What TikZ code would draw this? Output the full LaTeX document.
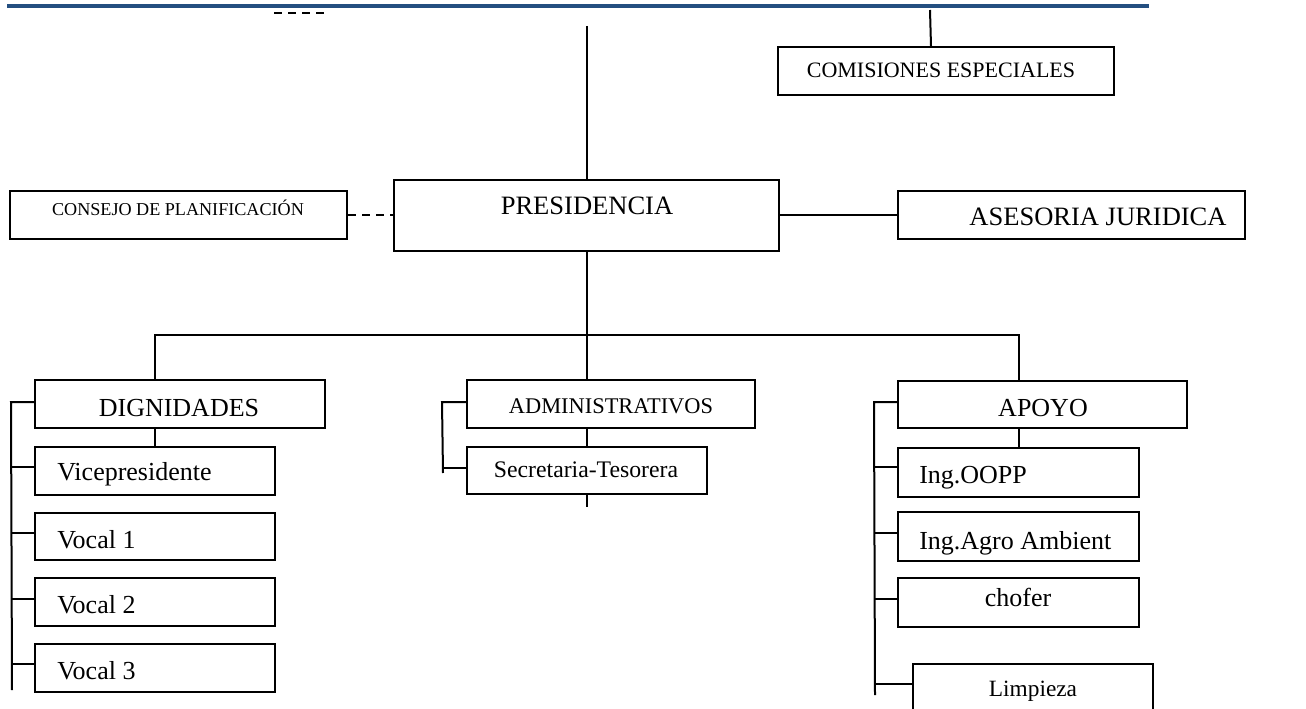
\documentclass[tikz,border=0pt]{standalone}
\usepackage{fontspec}
\setmainfont{Liberation Serif}
\usetikzlibrary{fit,calc}
\definecolor{barblue}{RGB}{36,79,128}
\begin{document}
\begin{tikzpicture}[x=0.75pt,y=-0.75pt,
  box/.style={draw, line width=1.5pt, inner sep=0pt, fit={#1}},
  conn/.style={line width=1.5pt},
  lbl/.style={inner sep=0pt, anchor=base},
  lblw/.style={inner sep=0pt, anchor=base west},
  fA/.style={font=\fontsize{19.9}{24}\selectfont},
  fB/.style={font=\fontsize{19.5}{23}\selectfont},
  fC/.style={font=\fontsize{16.5}{20}\selectfont},
  fD/.style={font=\fontsize{13.6}{16}\selectfont},
  fE/.style={font=\fontsize{16.8}{20}\selectfont},
  fF/.style={font=\fontsize{17.8}{21}\selectfont},
  fG/.style={font=\fontsize{17.5}{21}\selectfont},
]
\clip (0,0) rectangle (1306,709);
\fill[white] (0,0) rectangle (1306,709);

% header bar and dashes
\fill[barblue] (7,4) rectangle (1149,8);
\draw[line width=1.6pt, dash pattern=on 6pt off 4.5pt] (274,13) -- (326,13);

% boxes
\node[box={(778,47) (1114,95)}] (comis) {};
\node[box={(394,180) (779,251)}] (pres) {};
\node[box={(10,191) (347,239)}] (consejo) {};
\node[box={(898,191) (1245,239)}] (ases) {};
\node[box={(35,380) (325,428)}] (dign) {};
\node[box={(35,447) (275,495)}] (vice) {};
\node[box={(35,513) (275,560)}] (voc1) {};
\node[box={(35,578) (275,626)}] (voc2) {};
\node[box={(35,644) (275,692)}] (voc3) {};
\node[box={(467,380) (755,428)}] (admin) {};
\node[box={(467,447) (707,494)}] (secr) {};
\node[box={(898,381) (1187,428)}] (apoyo) {};
\node[box={(898,448) (1139,497)}] (oopp) {};
\node[box={(898,512) (1139,561)}] (agro) {};
\node[box={(898,578) (1139,627)}] (chofer) {};
\node[box={(913,664) (1153,730)}] (limp) {};

% texts
\node[lbl,fC] (comisT) at (941,77.3) {COMISIONES ESPECIALES};
\node[lbl,fA] (presT) at (587,214.7) {PRESIDENCIA};
\node[lbl,fD] (consejoT) at (178,216) {CONSEJO DE PLANIFICACIÓN};
\node[lbl,fA] (asesT) at (1098,225.7) {ASESORIA JURIDICA};
\node[lbl,fB] (dignT) at (179,416.6) {DIGNIDADES};
\node[lblw,fB] (viceT) at (57,480.6) {Vicepresidente};
\node[lblw,fB] (voc1T) at (57,548.6) {Vocal 1};
\node[lblw,fB] (voc2T) at (57,613.6) {Vocal 2};
\node[lblw,fB] (voc3T) at (57,679.6) {Vocal 3};
\node[lbl,fE] (adminT) at (611,413.4) {ADMINISTRATIVOS};
\node[lbl,fF] (secrT) at (586,477.9) {Secretaria-Tesorera};
\node[lbl,fB] (apoyoT) at (1043,416.6) {APOYO};
\node[lblw,fB] (ooppT) at (919,483.6) {Ing.OOPP};
\node[lblw,fB] (agroT) at (919,549.6) {Ing.Agro Ambient};
\node[lbl,fB] (choferT) at (1018,606.6) {chofer};
\node[lbl,fG] (limpT) at (1033,696.7) {Limpieza};

% free-end coordinates
\coordinate (topPres) at (587,26);
\coordinate (comTop) at (930,10);
\coordinate (busL) at (155,335);
\coordinate (busR) at (1019,335);
\coordinate (secrTail) at (587,507);
\coordinate (dEnd) at (12,690);
\coordinate (aEnd) at (443,473);
\coordinate (pEnd) at (875,695);

% connectors
\draw[conn] (topPres) -- (topPres |- pres.north);
\draw[conn] (comTop) -- ([xshift=115.5pt]comis.north west);
\draw[conn, dash pattern=on 6pt off 4.5pt] (consejo.east) -- (consejo.east -| pres.west);
\draw[conn] (pres.east |- ases.west) -- (ases.west);
\draw[conn] (topPres |- pres.south) -- (topPres |- busL);
\draw[conn] (busL |- dign.north) -- (busL) -- (busR) -- (busR |- apoyo.north);
\draw[conn] (topPres |- busL) -- (topPres |- admin.north);

\draw[conn] (busL |- dign.south) -- (busL |- vice.north);
\draw[conn] (topPres |- admin.south) -- (topPres |- secr.north);
\draw[conn] (topPres |- secr.south) -- (secrTail);
\draw[conn] (busR |- apoyo.south) -- (busR |- oopp.north);

% brackets
\draw[conn] ([yshift=1.5pt]dign.west) -- ++(-23,0) -- (dEnd);
\draw[conn] ([yshift=3pt]vice.west) -- ++(-23,0);
\draw[conn] ([yshift=2.6pt]voc1.west) -- ++(-23,0);
\draw[conn] ([yshift=2.6pt]voc2.west) -- ++(-23,0);
\draw[conn] ([yshift=3pt]voc3.west) -- ++(-23,0);

\draw[conn] ([yshift=1.5pt]admin.west) -- ++(-24,0) -- (aEnd);
\draw[conn] ([yshift=2pt]secr.west) -- ++(-24,0);

\draw[conn] ([yshift=1.8pt]apoyo.west) -- ++(-23,0) -- (pEnd);
\draw[conn] ([yshift=4pt]oopp.west) -- ++(-23,0);
\draw[conn] ([yshift=2.6pt]agro.west) -- ++(-23,0);
\draw[conn] ([yshift=2.6pt]chofer.west) -- ++(-23,0);
\draw[conn] ([yshift=-15.5pt]limp.north west) -- ++(-38,0);
\end{tikzpicture}
\end{document}
